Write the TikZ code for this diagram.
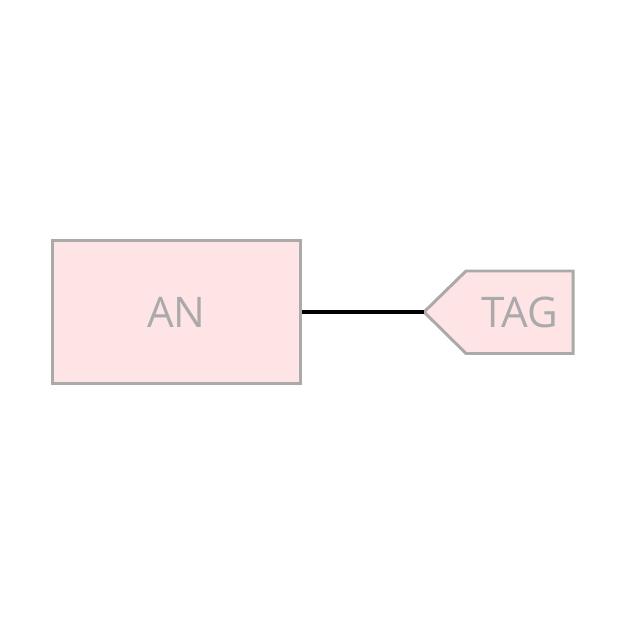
\documentclass[tikz,border=0pt]{standalone}
\usepackage{fontspec}
\setmainfont{Open Sans}
\usepackage{tikz}
\usepackage{color}

\definecolor{boxfill}{RGB}{255,228,230}
\definecolor{boxline}{RGB}{170,170,170}

\tikzset{
    anbox/.style={draw=boxline,fill=boxfill,line width=1.7pt,minimum width=4.98cm,minimum height=2.88cm,text=boxline,font=\fontsize{24}{28}\selectfont},
    tagtext/.style={text=boxline,font=\fontsize{24}{28}\selectfont},
    tagline/.style={draw=boxline,fill=boxfill,line width=1.7pt,line join=miter}
}

\begin{document}
\begin{tikzpicture}[x=0.02cm,y=-0.02cm]
            \useasboundingbox (0,0) rectangle (625,625);
            \node[anbox] (an) at (176.5,312) {AN};
            \coordinate (tagtip) at (424,312);
            \filldraw[tagline] (tagtip) -- (466,271) -- (573,271) -- (573,353.5) -- (466,353.5) -- cycle;
            \node[tagtext] (tag) at (520,312) {TAG};
            \draw[black,line width=2.3pt] (an.east) -- (tagtip);
        \end{tikzpicture}
\end{document}
